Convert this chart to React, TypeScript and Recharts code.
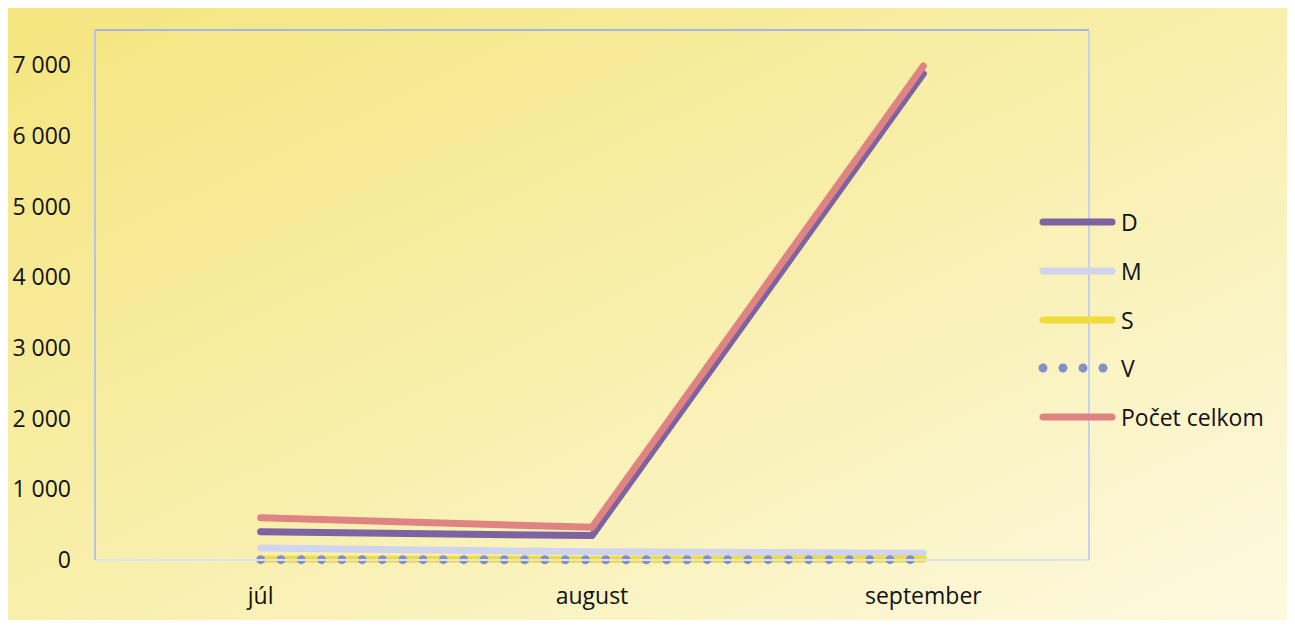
import React from 'react';
import { LineChart, Line, XAxis, YAxis, Legend } from 'recharts';

const months = ['júl', 'august', 'september'];
const seriesD = [400, 345, 6880];
const seriesM = [170, 115, 95];
const seriesS = [12, 8, 10];
const seriesV = [5, 4, 5];
const seriesTotal = [598, 462, 6990];
const yTicks = [0, 1000, 2000, 3000, 4000, 5000, 6000, 7000];

const data = months.map((m, i) => ({
  month: m,
  D: seriesD[i],
  M: seriesM[i],
  S: seriesS[i],
  V: seriesV[i],
  total: seriesTotal[i],
}));

const series = [
  { key: 'D', name: 'D', color: '#7e63a1', dotted: false },
  { key: 'M', name: 'M', color: '#d0d4ec', dotted: false },
  { key: 'S', name: 'S', color: '#f2dc3a', dotted: false },
  { key: 'V', name: 'V', color: '#8391c8', dotted: true },
  { key: 'total', name: 'Počet celkom', color: '#e08383', dotted: false },
];

const FONT = '"Open Sans", sans-serif';

function formatThousands(v: number): string {
  return String(v).replace(/\B(?=(\d{3})+(?!\d))/g, ' ');
}

function LegendContent() {
  return (
    <div style={{ fontFamily: FONT, fontSize: 23, color: '#111' }}>
      {series.map((s) => (
        <div key={s.key} style={{ display: 'flex', alignItems: 'center', height: 48.7 }}>
          <svg width={80} height={12} style={{ marginRight: 4 }}>
            <line
              x1={6}
              y1={6}
              x2={75}
              y2={6}
              stroke={s.color}
              strokeWidth={s.dotted ? 9 : 7}
              strokeLinecap="round"
              strokeDasharray={s.dotted ? '0 20' : undefined}
            />
          </svg>
          <span>{s.name}</span>
        </div>
      ))}
    </div>
  );
}

export default function App() {
  return (
    <div
      style={{
        width: 1280,
        height: 612,
        marginLeft: -1,
        background: 'linear-gradient(to bottom right, #f5e57f 0%, #f8efac 50%, #fdf9e0 100%)',
        position: 'relative',
      }}
    >
      <LineChart
        width={1280}
        height={612}
        data={data}
        margin={{ top: 21, right: 197, bottom: 0, left: 0 }}
      >
        <XAxis
          dataKey="month"
          scale="band"
          height={60}
          axisLine={{ stroke: '#dbe3f3', strokeWidth: 2 }}
          tickLine={false}
          tickSize={0}
          tickMargin={28}
          tick={{ fontSize: 23, fill: '#111', fontFamily: FONT }}
        />
        <XAxis
          xAxisId="top"
          dataKey="month"
          scale="band"
          orientation="top"
          height={1}
          tick={false}
          tickLine={false}
          axisLine={{ stroke: '#9fb8e4', strokeWidth: 2 }}
        />
        <YAxis
          domain={[0, 7500]}
          ticks={yTicks}
          width={88}
          axisLine={{ stroke: '#b3c6ea', strokeWidth: 2 }}
          tickLine={false}
          tickSize={0}
          tickMargin={24}
          tickFormatter={formatThousands}
          tick={{ fontSize: 23, fill: '#111', fontFamily: FONT }}
        />
        <YAxis
          yAxisId="right"
          orientation="right"
          domain={[0, 7500]}
          width={1}
          tick={false}
          tickLine={false}
          axisLine={{ stroke: '#c3d2ee', strokeWidth: 2 }}
        />
        <Legend
          layout="vertical"
          align="center"
          verticalAlign="middle"
          wrapperStyle={{ left: 1030, top: 190, width: 250 }}
          content={<LegendContent />}
        />
        {/* invisible series so the frame axes get drawn */}
        <Line
          xAxisId="top"
          yAxisId="right"
          dataKey="total"
          stroke="none"
          dot={false}
          activeDot={false}
          legendType="none"
          isAnimationActive={false}
        />
        {series.map((s) => (
          <Line
            key={s.key}
            dataKey={s.key}
            name={s.name}
            type="linear"
            stroke={s.color}
            strokeWidth={s.dotted ? 9 : 7}
            strokeLinecap="round"
            strokeLinejoin="round"
            strokeDasharray={s.dotted ? '0 20.3' : undefined}
            dot={false}
            activeDot={false}
            isAnimationActive={false}
          />
        ))}
      </LineChart>
    </div>
  );
}
